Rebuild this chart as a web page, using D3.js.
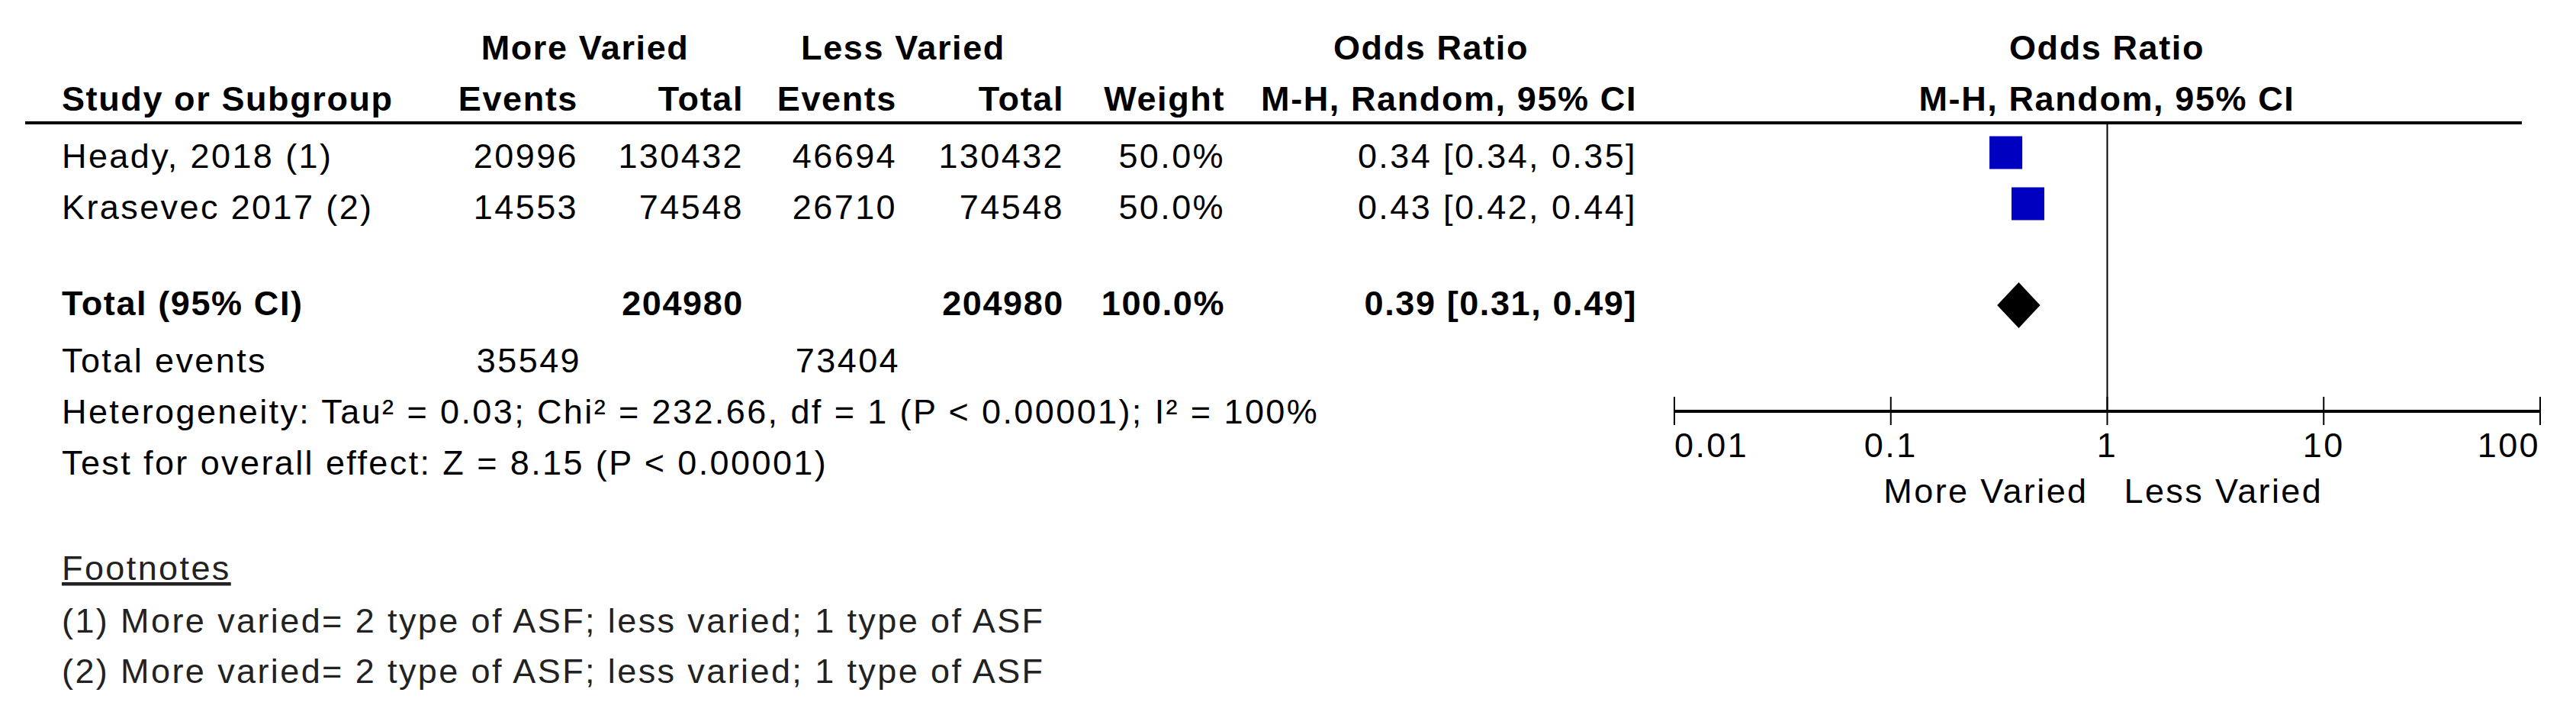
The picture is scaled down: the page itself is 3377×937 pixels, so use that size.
<!DOCTYPE html>
<html>
<head>
<meta charset="utf-8">
<script src="https://cdn.jsdelivr.net/npm/d3@7"></script>
<style>
  body { margin: 0; background: #fff; }
  text { font-family: "Liberation Sans", Arial, sans-serif; font-size: 45px; fill: #000; letter-spacing: 2.4px; }
  .b { font-weight: bold; letter-spacing: 1.6px; }
</style>
</head>
<body>
<svg id="chart" width="3377" height="937"></svg>
<script>
// study rows
var studies = ["Heady, 2018 (1)", "Krasevec 2017 (2)"];
var moreEvents = [20996, 14553];
var moreTotal = [130432, 74548];
var lessEvents = [46694, 26710];
var lessTotal = [130432, 74548];
var weights = [50.0, 50.0];
var orValue = [0.34, 0.43];
var orLow = [0.34, 0.42];
var orHigh = [0.35, 0.44];

// pooled result
var pooled = { or: 0.39, low: 0.31, high: 0.49, moreTotal: 204980, lessTotal: 204980, moreEvents: 35549, lessEvents: 73404 };

var axisTicks = [0.01, 0.1, 1, 10, 100];
var footnotes = [
  "(1) More varied= 2 type of ASF; less varied; 1 type of ASF",
  "(2) More varied= 2 type of ASF; less varied; 1 type of ASF"
];

var svg = d3.select("#chart");

function txt(x, y, s, anchor, cls) {
  return svg.append("text").attr("x", x).attr("y", y).attr("text-anchor", anchor || "start")
    .attr("class", cls || null).text(s);
}

// header
txt(767, 78, "More Varied", "middle", "b");
txt(1184, 78, "Less Varied", "middle", "b");
txt(1876, 78, "Odds Ratio", "middle", "b");
txt(2762, 78, "Odds Ratio", "middle", "b");
txt(81, 145, "Study or Subgroup", "start", "b");
txt(758, 145, "Events", "end", "b");
txt(975, 145, "Total", "end", "b");
txt(1176, 145, "Events", "end", "b");
txt(1395, 145, "Total", "end", "b");
txt(1606, 145, "Weight", "end", "b");
txt(2146, 145, "M-H, Random, 95% CI", "end", "b");
txt(2762, 145, "M-H, Random, 95% CI", "middle", "b");

svg.append("line").attr("x1", 33).attr("x2", 3306).attr("y1", 161).attr("y2", 161)
  .attr("stroke", "#000").attr("stroke-width", 4);

// scales
var x = d3.scaleLog().domain([0.01, 100]).range([2195, 3330]);
var rowY = d3.scalePoint().domain(studies).range([220, 287]);
var fmt = d3.format(".2f");

studies.forEach(function (s, i) {
  var y = rowY(s);
  txt(81, y, s);
  txt(758, y, moreEvents[i], "end");
  txt(975, y, moreTotal[i], "end");
  txt(1176, y, lessEvents[i], "end");
  txt(1395, y, lessTotal[i], "end");
  txt(1606, y, weights[i].toFixed(1) + "%", "end");
  txt(2146, y, fmt(orValue[i]) + " [" + fmt(orLow[i]) + ", " + fmt(orHigh[i]) + "]", "end");
  // CI line (hidden behind square at this width)
  svg.append("line").attr("x1", x(orLow[i])).attr("x2", x(orHigh[i]))
    .attr("y1", y - 20).attr("y2", y - 20).attr("stroke", "#000").attr("stroke-width", 2);
  var sz = 43 * Math.sqrt(weights[i] / 50);
  svg.append("rect").attr("x", x(orValue[i]) - sz / 2).attr("y", y - 20 - sz / 2)
    .attr("width", sz).attr("height", sz).attr("fill", "#0000c0");
});

// total row
var ty = 413;
txt(81, ty, "Total (95% CI)", "start", "b");
txt(975, ty, pooled.moreTotal, "end", "b");
txt(1395, ty, pooled.lessTotal, "end", "b");
txt(1606, ty, "100.0%", "end", "b");
txt(2146, ty, fmt(pooled.or) + " [" + fmt(pooled.low) + ", " + fmt(pooled.high) + "]", "end", "b");
var dy = 400;
svg.append("path")
  .attr("d", "M" + x(pooled.low) + "," + dy + "L" + x(pooled.or) + "," + (dy - 30) +
    "L" + x(pooled.high) + "," + dy + "L" + x(pooled.or) + "," + (dy + 30) + "Z")
  .attr("fill", "#000");

txt(81, 488, "Total events");
txt(762, 488, pooled.moreEvents, "end");
txt(1180, 488, pooled.lessEvents, "end");
txt(81, 555, "Heterogeneity: Tau\u00b2 = 0.03; Chi\u00b2 = 232.66, df = 1 (P < 0.00001); I\u00b2 = 100%");
txt(81, 622, "Test for overall effect: Z = 8.15 (P < 0.00001)");

// vertical null line
svg.append("line").attr("x1", x(1)).attr("x2", x(1)).attr("y1", 161).attr("y2", 539)
  .attr("stroke", "#000").attr("stroke-width", 2);

// axis
var ax = svg.append("g").attr("transform", "translate(0,539)");
ax.append("line").attr("x1", x(0.01)).attr("x2", x(100)).attr("stroke", "#000").attr("stroke-width", 4);
ax.selectAll(".tk").data(axisTicks).enter().append("line")
  .attr("x1", function (d) { return x(d); }).attr("x2", function (d) { return x(d); })
  .attr("y1", -19).attr("y2", 18).attr("stroke", "#000").attr("stroke-width", 2);
ax.selectAll(".tl").data(axisTicks).enter().append("text")
  .attr("x", function (d) { return x(d); }).attr("y", 60)
  .attr("text-anchor", function (d, i) { return i === 0 ? "start" : i === axisTicks.length - 1 ? "end" : "middle"; })
  .text(function (d) { return d; });
txt(x(1) - 25, 659, "More Varied", "end");
txt(x(1) + 22, 659, "Less Varied", "start");

// footnotes
txt(81, 760, "Footnotes").style("text-decoration", "underline").style("fill", "#222");
footnotes.forEach(function (f, i) {
  txt(81, 829 + i * 66, f).style("fill", "#222");
});
</script>
</body>
</html>
